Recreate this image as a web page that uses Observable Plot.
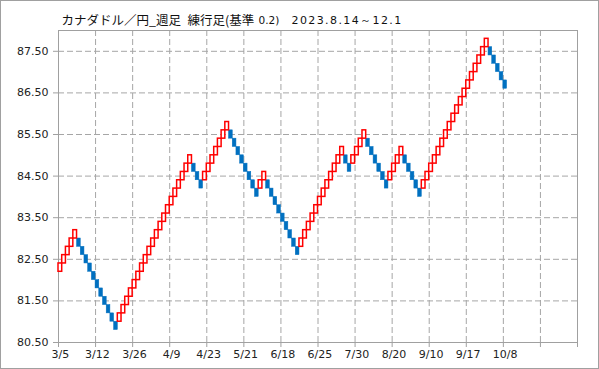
<!DOCTYPE html>
<html><head><meta charset="utf-8">
<script src="https://cdn.jsdelivr.net/npm/d3@7"></script>
<script src="https://cdn.jsdelivr.net/npm/@observablehq/plot@0.6"></script>
<style>
body{margin:0;background:#fff}
#chart svg{outline:1px solid #a0a0a0;outline-offset:-1px;background:#fff}
</style>
</head><body><div id="chart"></div>
<script>
const titlePair = "カナダドル／円_週足";
const titleKind = "練行足(基準";
const titleBase = "0.2)";
const titleDates = "2023.8.14～12.1";
const brickSize = 0.2;

// lower edge of each renko brick, in drawing order
const brickLow = [
  82.2, 82.4, 82.6, 82.8, 83.0,
  82.8, 82.6, 82.4, 82.2, 82.0, 81.8, 81.6, 81.4, 81.2, 81.0, 80.8,
  81.0, 81.2, 81.4, 81.6, 81.8, 82.0, 82.2, 82.4, 82.6, 82.8, 83.0, 83.2, 83.4, 83.6, 83.8, 84.0, 84.2, 84.4, 84.6, 84.8,
  84.6, 84.4, 84.2,
  84.4, 84.6, 84.8, 85.0, 85.2, 85.4, 85.6,
  85.4, 85.2, 85.0, 84.8, 84.6, 84.4, 84.2, 84.0,
  84.2, 84.4,
  84.2, 84.0, 83.8, 83.6, 83.4, 83.2, 83.0, 82.8, 82.6,
  82.8, 83.0, 83.2, 83.4, 83.6, 83.8, 84.0, 84.2, 84.4, 84.6, 84.8, 85.0,
  84.8, 84.6,
  84.8, 85.0, 85.2, 85.4,
  85.2, 85.0, 84.8, 84.6, 84.4, 84.2,
  84.4, 84.6, 84.8, 85.0,
  84.8, 84.6, 84.4, 84.2, 84.0,
  84.2, 84.4, 84.6, 84.8, 85.0, 85.2, 85.4, 85.6, 85.8, 86.0, 86.2, 86.4, 86.6, 86.8, 87.0, 87.2, 87.4, 87.6,
  87.4, 87.2, 87.0, 86.8, 86.6
];
// direction of each brick: u = up (hollow red), d = down (blue)
const brickDir = [
  "u","u","u","u","u",
  "d","d","d","d","d","d","d","d","d","d","d",
  "u","u","u","u","u","u","u","u","u","u","u","u","u","u","u","u","u","u","u","u",
  "d","d","d",
  "u","u","u","u","u","u","u",
  "d","d","d","d","d","d","d","d",
  "u","u",
  "d","d","d","d","d","d","d","d","d",
  "u","u","u","u","u","u","u","u","u","u","u","u",
  "d","d",
  "u","u","u","u",
  "d","d","d","d","d","d",
  "u","u","u","u",
  "d","d","d","d","d",
  "u","u","u","u","u","u","u","u","u","u","u","u","u","u","u","u","u","u",
  "d","d","d","d","d"
];
const xLabels = ["3/5","3/12","3/26","4/9","4/23","5/21","6/18","6/25","7/30","8/20","9/10","9/17","10/8"];
const yTicks = [80.5, 81.5, 82.5, 83.5, 84.5, 85.5, 86.5, 87.5];

const bricks = brickLow.map((lo, i) => ({i, lo, hi: lo + brickSize, up: brickDir[i] === "u"}));
const nCats = 140;
const catTicks = d3.range(0, nCats + 1, 10);
const grid = "#a6a6a6";
const font = "DejaVu Sans, sans-serif";
const jp = "Noto Sans CJK JP";

const chart = Plot.plot({
  width: 599,
  height: 369,
  marginLeft: 58,
  marginRight: 22,
  marginTop: 30,
  marginBottom: 27,
  style: {fontFamily: font, fontSize: "11px", color: "#222", background: "#fff"},
  x: {type: "linear", domain: [0, nCats]},
  y: {domain: [80.5, 88.0]},
  marks: [
    Plot.ruleY(yTicks.slice(1), {stroke: grid, strokeDasharray: "6,3"}),
    Plot.ruleX(catTicks.slice(1, -1), {stroke: grid, strokeDasharray: "6,3"}),
    Plot.frame({stroke: "#a0a0a0"}),
    Plot.axisY(yTicks, {tickSize: 5, tickPadding: 5, tickFormat: d => d.toFixed(2), stroke: "#a0a0a0", fill: "#222", fontSize: 11, label: null}),
    Plot.axisX(catTicks, {tickSize: 5, tickFormat: () => "", stroke: "#a0a0a0", label: null}),
    Plot.text(xLabels, {x: (d, k) => k * 10 + 0.5, frameAnchor: "bottom", dy: 15, fontSize: 11, fill: "#222"}),
    Plot.rect(bricks.filter(d => !d.up), {x1: d => d.i, x2: d => d.i + 1, y1: "lo", y2: "hi", fill: "#0070c0", stroke: "#0070c0", strokeWidth: 0.5}),
    Plot.rect(bricks.filter(d => d.up), {x1: d => d.i, x2: d => d.i + 1, y1: "lo", y2: "hi", fill: "white", stroke: "#ff0000", strokeWidth: 1.5}),
    Plot.text([titlePair], {frameAnchor: "top-left", dx: 3, dy: -14, textAnchor: "start", fontSize: 12.5, fill: "#111", fontFamily: jp}),
    Plot.text([titleKind], {frameAnchor: "top-left", dx: 129, dy: -14, textAnchor: "start", fontSize: 12.5, fill: "#111", fontFamily: jp}),
    Plot.text([titleBase], {frameAnchor: "top-left", dx: 200, dy: -14, textAnchor: "start", fontSize: 10.5, fill: "#111", fontFamily: font}),
    Plot.text([titleDates], {frameAnchor: "top-left", dx: 233, dy: -14, textAnchor: "start", fontSize: 11, fill: "#111", fontFamily: font})
  ]
});
d3.select(chart).selectAll("text").filter(function() { return this.textContent === titleDates; })
  .attr("letter-spacing", "1.4px");
document.getElementById("chart").append(chart);
</script>
</body></html>
